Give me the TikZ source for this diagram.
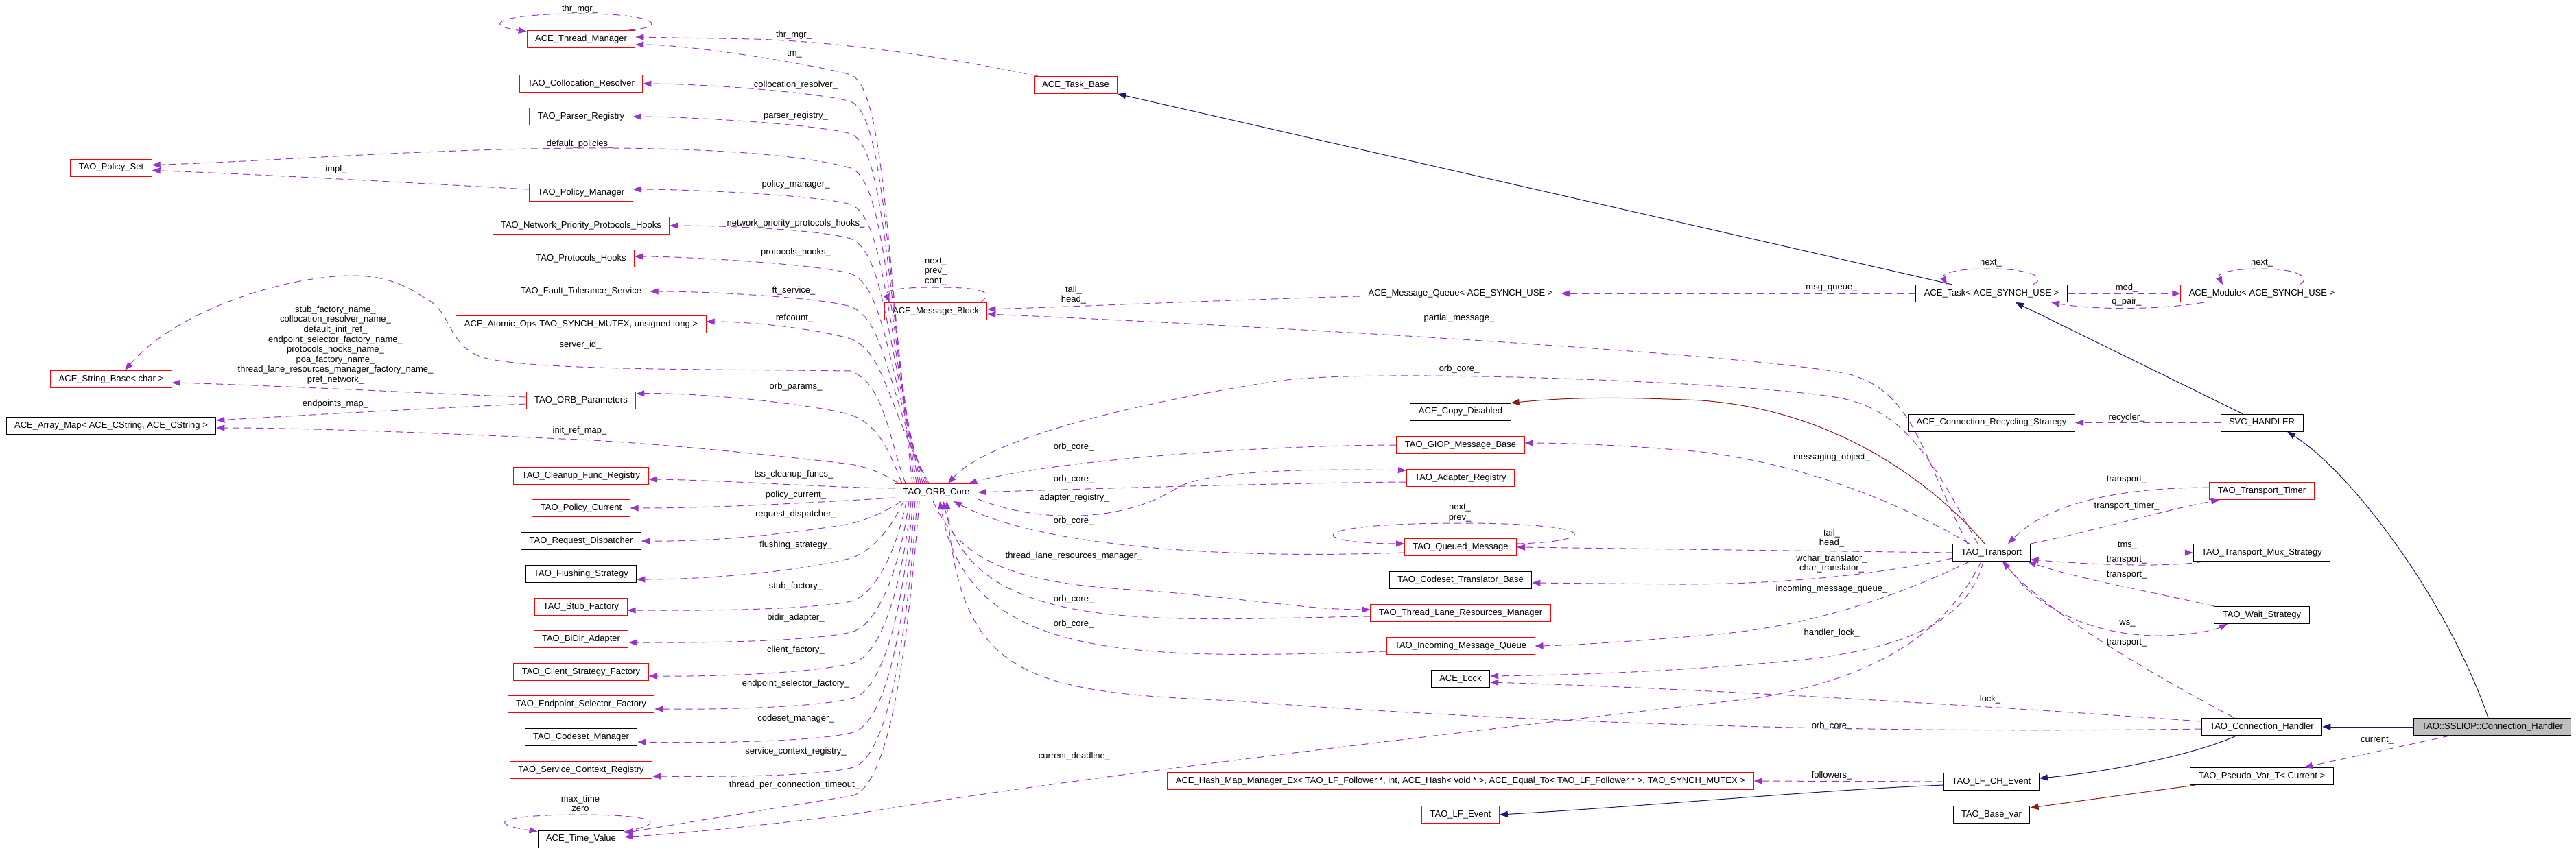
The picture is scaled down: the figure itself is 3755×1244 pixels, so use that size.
\documentclass[tikz,border=0pt]{standalone}
\usepackage{fontspec}
\setmainfont{Liberation Sans}
\usetikzlibrary{arrows.meta}
\definecolor{usecol}{HTML}{9A32CD}
\definecolor{inhcol}{HTML}{191970}
\definecolor{privcol}{HTML}{8B1A1A}
\definecolor{rootfill}{HTML}{BFBFBF}

\begin{document}
\begin{tikzpicture}[x=1pt,y=1pt,
  cls/.style={draw=black,fill=white,line width=1pt,inner xsep=12pt,inner ysep=0pt,minimum height=25pt,font=\fontsize{13}{15}\selectfont},
  clsred/.style={cls,draw=red},
  rootcls/.style={cls,fill=rootfill},
  lbl/.style={inner sep=0pt,align=center,font=\fontsize{13}{14.6}\selectfont},
  headtip/.style={-{Triangle[length=12pt,width=9pt]}},
  usage/.style={draw=usecol,line width=1pt,dash pattern=on 10pt off 7pt,headtip},
  inh/.style={draw=inhcol,line width=1pt,headtip},
  priv/.style={draw=privcol,line width=1pt,headtip}]
\fill[white] (0,0) rectangle (3755,-1244);
\useasboundingbox (0,0) rectangle (3755,-1244);

% classes
\node[clsred] (PolicySet) at (162,-244.5) {TAO\_Policy\_Set};
\node[clsred] (StringBase) at (162,-553) {ACE\_String\_Base< char >};
\node[cls] (ArrayMap) at (162,-621) {ACE\_Array\_Map< ACE\_CString, ACE\_CString >};

\node[clsred] (ThreadMgr) at (847,-57) {ACE\_Thread\_Manager};
\node[clsred] (CollocRes) at (847,-122) {TAO\_Collocation\_Resolver};
\node[clsred] (ParserReg) at (847,-170) {TAO\_Parser\_Registry};
\node[clsred] (PolicyMgr) at (847,-281) {TAO\_Policy\_Manager};
\node[clsred] (NetPrio) at (847,-329) {TAO\_Network\_Priority\_Protocols\_Hooks};
\node[clsred] (ProtoHooks) at (847,-377) {TAO\_Protocols\_Hooks};
\node[clsred] (FaultTol) at (847,-425) {TAO\_Fault\_Tolerance\_Service};
\node[clsred] (AtomicOp) at (847,-473) {ACE\_Atomic\_Op< TAO\_SYNCH\_MUTEX, unsigned long >};
\node[clsred] (OrbParams) at (847,-584) {TAO\_ORB\_Parameters};
\node[clsred] (CleanupReg) at (847,-694) {TAO\_Cleanup\_Func\_Registry};
\node[clsred] (PolicyCur) at (847,-741) {TAO\_Policy\_Current};
\node[cls] (ReqDisp) at (847,-789) {TAO\_Request\_Dispatcher};
\node[cls] (FlushStrat) at (847,-837) {TAO\_Flushing\_Strategy};
\node[clsred] (StubFact) at (847,-885) {TAO\_Stub\_Factory};
\node[clsred] (BiDir) at (847,-932) {TAO\_BiDir\_Adapter};
\node[clsred] (ClientFact) at (847,-980) {TAO\_Client\_Strategy\_Factory};
\node[clsred] (EndptFact) at (847,-1027) {TAO\_Endpoint\_Selector\_Factory};
\node[cls] (CodesetMgr) at (847,-1075) {TAO\_Codeset\_Manager};
\node[clsred] (SvcCtx) at (847,-1123) {TAO\_Service\_Context\_Registry};
\node[cls] (TimeValue) at (847,-1223.5) {ACE\_Time\_Value};

\node[clsred] (MsgBlock) at (1364,-454) {ACE\_Message\_Block};
\node[clsred] (OrbCore) at (1365,-718) {TAO\_ORB\_Core};
\node[clsred] (TaskBase) at (1568,-124) {ACE\_Task\_Base};

\node[clsred] (MsgQueue) at (2129,-428) {ACE\_Message\_Queue< ACE\_SYNCH\_USE >};
\node[cls] (CopyDisabled) at (2129,-600.5) {ACE\_Copy\_Disabled};
\node[clsred] (GiopBase) at (2129,-649) {TAO\_GIOP\_Message\_Base};
\node[clsred] (AdapterReg) at (2129,-697) {TAO\_Adapter\_Registry};
\node[clsred] (QueuedMsg) at (2129,-798) {TAO\_Queued\_Message};
\node[cls] (CodesetTrans) at (2129,-846) {TAO\_Codeset\_Translator\_Base};
\node[clsred] (ThreadLane) at (2129,-894) {TAO\_Thread\_Lane\_Resources\_Manager};
\node[clsred] (IncomingQ) at (2129,-942) {TAO\_Incoming\_Message\_Queue};
\node[cls] (Lock) at (2129,-990) {ACE\_Lock};
\node[clsred] (HashMap) at (2129,-1139) {ACE\_Hash\_Map\_Manager\_Ex< TAO\_LF\_Follower *, int, ACE\_Hash< void * >, ACE\_Equal\_To< TAO\_LF\_Follower * >, TAO\_SYNCH\_MUTEX >};
\node[clsred] (LfEvent) at (2129,-1188) {TAO\_LF\_Event};

\node[cls] (Task) at (2903,-428) {ACE\_Task< ACE\_SYNCH\_USE >};
\node[cls] (Recycling) at (2903,-616.5) {ACE\_Connection\_Recycling\_Strategy};
\node[cls] (Transport) at (2903,-806) {TAO\_Transport};
\node[cls] (LfChEvent) at (2903,-1140) {TAO\_LF\_CH\_Event};
\node[cls] (BaseVar) at (2903,-1188) {TAO\_Base\_var};

\node[clsred] (Module) at (3297,-428) {ACE\_Module< ACE\_SYNCH\_USE >};
\node[cls] (SvcHandler) at (3297,-616.5) {SVC\_HANDLER};
\node[clsred] (TransTimer) at (3297,-716) {TAO\_Transport\_Timer};
\node[cls] (MuxStrat) at (3297,-806) {TAO\_Transport\_Mux\_Strategy};
\node[cls] (WaitStrat) at (3297,-897) {TAO\_Wait\_Strategy};
\node[cls] (ConnHandler) at (3297,-1060) {TAO\_Connection\_Handler};
\node[cls] (PseudoVar) at (3297,-1132) {TAO\_Pseudo\_Var\_T< Current >};

\node[rootcls] (Sslip) at (3633,-1060) {TAO::SSLIOP::Connection\_Handler};

% edge labels
\node[lbl] (lbThrSelf) at (845,-13) {thr\_mgr\_};
\node[lbl] (lbThrMgr) at (1157,-51) {thr\_mgr\_};
\node[lbl] (lbTm) at (1158,-79) {tm\_};
\node[lbl] (lbColloc) at (1160,-124) {collocation\_resolver\_};
\node[lbl] (lbParser) at (1160,-169) {parser\_registry\_};
\node[lbl] (lbDefPol) at (845,-210) {default\_policies\_};
\node[lbl] (lbImpl) at (490,-247) {impl\_};
\node[lbl] (lbPolMgr) at (1160,-269) {policy\_manager\_};
\node[lbl] (lbNetPrio) at (1160,-326) {network\_priority\_protocols\_hooks\_};
\node[lbl] (lbProto) at (1160,-368) {protocols\_hooks\_};
\node[lbl] (lbFt) at (1157,-424) {ft\_service\_};
\node[lbl] (lbRef) at (1158,-464) {refcount\_};
\node[lbl] (lbServer) at (846,-503) {server\_id\_};
\node[lbl] (lbNames) at (489,-503) {stub\_factory\_name\_\\collocation\_resolver\_name\_\\default\_init\_ref\_\\endpoint\_selector\_factory\_name\_\\protocols\_hooks\_name\_\\poa\_factory\_name\_\\thread\_lane\_resources\_manager\_factory\_name\_\\pref\_network\_};
\node[lbl] (lbEndMap) at (489,-589) {endpoints\_map\_};
\node[lbl] (lbParams) at (1160,-564) {orb\_params\_};
\node[lbl] (lbInitRef) at (845,-628) {init\_ref\_map\_};
\node[lbl] (lbTss) at (1157,-692) {tss\_cleanup\_funcs\_};
\node[lbl] (lbPolCur) at (1160,-722) {policy\_current\_};
\node[lbl] (lbReq) at (1160,-750) {request\_dispatcher\_};
\node[lbl] (lbFlush) at (1160,-795) {flushing\_strategy\_};
\node[lbl] (lbStub) at (1160,-855) {stub\_factory\_};
\node[lbl] (lbBiDir) at (1160,-901) {bidir\_adapter\_};
\node[lbl] (lbClient) at (1160,-948) {client\_factory\_};
\node[lbl] (lbEndpt) at (1160,-997) {endpoint\_selector\_factory\_};
\node[lbl] (lbCodeset) at (1160,-1048) {codeset\_manager\_};
\node[lbl] (lbSvcCtx) at (1160,-1096) {service\_context\_registry\_};
\node[lbl] (lbTpc) at (1158,-1145) {thread\_per\_connection\_timeout\_};
\node[lbl] (lbTimeSelf) at (846,-1172) {max\_time\\zero};
\node[lbl] (lbBlockSelf) at (1364,-396) {next\_\\prev\_\\cont\_};
\node[lbl] (lbQueueBlock) at (1565,-430) {tail\_\\head\_};
\node[lbl] (lbGiopCore) at (1565,-652) {orb\_core\_};
\node[lbl] (lbAdapCore) at (1565,-699) {orb\_core\_};
\node[lbl] (lbAdapReg) at (1566,-726) {adapter\_registry\_};
\node[lbl] (lbQueuedCore) at (1565,-760) {orb\_core\_};
\node[lbl] (lbLane) at (1565,-811) {thread\_lane\_resources\_manager\_};
\node[lbl] (lbLaneCore) at (1565,-874) {orb\_core\_};
\node[lbl] (lbIncCore) at (1565,-910) {orb\_core\_};
\node[lbl] (lbDeadline) at (1566,-1103) {current\_deadline\_};
\node[lbl] (lbPartial) at (2127,-464) {partial\_message\_};
\node[lbl] (lbTransCore) at (2127,-538) {orb\_core\_};
\node[lbl] (lbQueuedSelf) at (2128,-748) {next\_\\prev\_};
\node[lbl] (lbMsgQueue) at (2670,-420) {msg\_queue\_};
\node[lbl] (lbMsgObj) at (2670,-667) {messaging\_object\_};
\node[lbl] (lbTransQueued) at (2670,-785) {tail\_\\head\_};
\node[lbl] (lbTrans) at (2670,-822) {wchar\_translator\_\\char\_translator\_};
\node[lbl] (lbIncQ) at (2670,-859) {incoming\_message\_queue\_};
\node[lbl] (lbHLock) at (2670,-923) {handler\_lock\_};
\node[lbl] (lbHandlerCore) at (2670,-1059) {orb\_core\_};
\node[lbl] (lbFollow) at (2670,-1131) {followers\_};
\node[lbl] (lbTaskSelf) at (2902,-384) {next\_};
\node[lbl] (lbLock) at (2901,-1020) {lock\_};
\node[lbl] (lbMod) at (3100,-420) {mod\_};
\node[lbl] (lbQPair) at (3100,-440) {q\_pair\_};
\node[lbl] (lbRecycler) at (3100,-609) {recycler\_};
\node[lbl] (lbTimerTr) at (3100,-700) {transport\_};
\node[lbl] (lbTimer) at (3100,-738) {transport\_timer\_};
\node[lbl] (lbTms) at (3101,-796) {tms\_};
\node[lbl] (lbMuxTr) at (3100,-817) {transport\_};
\node[lbl] (lbWaitTr) at (3100,-839) {transport\_};
\node[lbl] (lbWs) at (3101,-909) {ws\_};
\node[lbl] (lbHandlerTr) at (3100,-938) {transport\_};
\node[lbl] (lbModSelf) at (3297,-384) {next\_};
\node[lbl] (lbCurrent) at (3465,-1080) {current\_};

% inheritance
\draw[inh] ([xshift=-57pt]Task.north) -- (TaskBase.south east);
\draw[inh] ([xshift=-28pt]SvcHandler.north) -- ([xshift=35pt]Task.south);
\draw[inh] ([xshift=-6pt]Sslip.north) .. controls (3570,-880) and (3430,-690) .. ([xshift=37pt]SvcHandler.south);
\draw[inh] (Sslip.west) -- (ConnHandler.east);
\draw[inh] ([xshift=-37pt]ConnHandler.south) .. controls (3200,-1100) and (3080,-1125) .. ([yshift=5pt]LfChEvent.east);
\draw[inh] ([yshift=-5pt]LfChEvent.west) .. controls (2650,-1152) and (2400,-1176) .. (LfEvent.east);
\draw[priv] ([xshift=-10pt]Transport.north) .. controls (2840,-730) and (2700,-600) .. (2480,-584) .. controls (2350,-578) and (2280,-580) .. (CopyDisabled.north east);
\draw[priv] ([xshift=8pt]PseudoVar.south west) -- ([yshift=10pt]BaseVar.east);

% self loops
\draw[usage] ([xshift=-10pt]ThreadMgr.north east) .. controls (975,-40) and (960,-20) .. (847,-20) .. controls (730,-20) and (700,-36) .. ([yshift=-2pt]ThreadMgr.north west);
\draw[usage] ([xshift=-10pt]MsgBlock.north east) .. controls (1450,-425) and (1430,-419) .. (1364,-419) .. controls (1300,-419) and (1290,-425) .. ([xshift=8pt]MsgBlock.north west);
\draw[usage] ([yshift=5pt]QueuedMsg.east) .. controls (2330,-790) and (2340,-763) .. (2129,-763) .. controls (1900,-763) and (1900,-792) .. ([yshift=5pt]QueuedMsg.west);
\draw[usage] ([xshift=60pt]Task.north) .. controls (2985,-405) and (2960,-392) .. (2900,-392) .. controls (2845,-392) and (2830,-400) .. ([xshift=-65pt]Task.north);
\draw[usage] ([xshift=55pt]Module.north) .. controls (3370,-405) and (3350,-392) .. (3297,-392) .. controls (3245,-392) and (3232,-400) .. ([xshift=-57pt]Module.north);
\draw[usage] ([yshift=-2pt]TimeValue.north east) .. controls (980,-1200) and (950,-1188) .. (845,-1188) .. controls (740,-1188) and (700,-1200) .. ([yshift=-2pt]TimeValue.north west);

% ORB core members, upper fan
\draw[usage] ([xshift=-35pt]OrbCore.north) .. controls (1292,-377) and (1290,-129) .. (1240,-109) .. controls (1190,-95) and (1010,-65) .. ([yshift=-8pt]ThreadMgr.east);
\draw[usage] ([xshift=-32pt]OrbCore.north) .. controls (1292,-399) and (1290,-168) .. (1240,-148) .. controls (1190,-134) and (1020,-122) .. (CollocRes.east);
\draw[usage] ([xshift=-29pt]OrbCore.north) .. controls (1292,-424) and (1290,-215) .. (1240,-195) .. controls (1190,-181) and (1000,-170) .. (ParserReg.east);
\draw[usage] ([xshift=-26pt]OrbCore.north) .. controls (1292,-452) and (1290,-265) .. (1240,-245) .. controls (1180,-228) and (1050,-215) .. (845,-216) .. controls (600,-218) and (400,-235) .. ([yshift=4pt]PolicySet.east);
\draw[usage] ([xshift=-23pt]OrbCore.north) .. controls (1292,-481) and (1290,-318) .. (1240,-298) .. controls (1190,-284) and (1000,-276) .. ([yshift=5pt]PolicyMgr.east);
\draw[usage] ([xshift=-20pt]OrbCore.north) .. controls (1292,-508) and (1290,-368) .. (1240,-348) .. controls (1190,-334) and (1050,-329) .. (NetPrio.east);
\draw[usage] ([xshift=-17pt]OrbCore.north) .. controls (1292,-536) and (1290,-419) .. (1240,-399) .. controls (1190,-385) and (1000,-374) .. ([yshift=3pt]ProtoHooks.east);
\draw[usage] ([xshift=-14pt]OrbCore.north) .. controls (1292,-562) and (1290,-467) .. (1240,-447) .. controls (1190,-433) and (1030,-425) .. (FaultTol.east);
\draw[usage] ([xshift=-11pt]OrbCore.north) .. controls (1292,-589) and (1290,-514) .. (1240,-494) .. controls (1190,-480) and (1100,-469) .. ([yshift=4pt]AtomicOp.east);
\draw[usage] ([xshift=-45pt]OrbCore.north) .. controls (1295,-640) and (1290,-560) .. (1240,-541) .. controls (1000,-538) and (760,-540) .. (700,-520) .. controls (650,-500) and (660,-455) .. (620,-435) .. controls (590,-415) and (560,-402) .. (514,-402) .. controls (420,-402) and (260,-450) .. ([xshift=20pt]StringBase.north);
\draw[usage] ([xshift=-50pt]OrbCore.north) .. controls (1300,-670) and (1285,-620) .. (1240,-605) .. controls (1190,-590) and (1020,-572) .. ([yshift=10pt]OrbParams.east);
\draw[usage] ([yshift=5pt]OrbParams.west) .. controls (650,-575) and (400,-562) .. ([yshift=-5pt]StringBase.east);
\draw[usage] ([yshift=-5pt]OrbParams.west) .. controls (700,-592) and (500,-602) .. ([yshift=8pt]ArrayMap.east);
\draw[usage] ([yshift=5pt]PolicyMgr.west) .. controls (620,-268) and (420,-256) .. ([yshift=-4pt]PolicySet.east);

% ORB core members, lower fan
\draw[usage] ([xshift=-55pt]OrbCore.north) .. controls (1295,-695) and (1270,-682) .. (1240,-677) .. controls (1100,-660) and (900,-642) .. (818,-640) .. controls (650,-632) and (450,-624) .. ([yshift=-3pt]ArrayMap.east);
\draw[usage] ([yshift=6pt]OrbCore.west) .. controls (1200,-711) and (1050,-700) .. ([yshift=-5pt]CleanupReg.east);
\draw[usage] ([yshift=-8pt]OrbCore.west) .. controls (1200,-732) and (1050,-741) .. (PolicyCur.east);
\draw[usage] ([xshift=-52pt]OrbCore.south) .. controls (1295,-745) and (1265,-757) .. (1240,-764) .. controls (1150,-778) and (1050,-790) .. (ReqDisp.east);
\draw[usage] ([xshift=-48pt]OrbCore.south) .. controls (1300,-770) and (1270,-805) .. (1240,-814) .. controls (1180,-830) and (1050,-845) .. ([yshift=-8pt]FlushStrat.east);
\draw[usage] ([xshift=-44pt]OrbCore.south) .. controls (1310,-790) and (1280,-867) .. (1240,-877) .. controls (1190,-888) and (1050,-891) .. ([yshift=-5pt]StubFact.east);
\draw[usage] ([xshift=-40pt]OrbCore.south) .. controls (1315,-810) and (1285,-912) .. (1240,-922) .. controls (1190,-934) and (1050,-938) .. ([yshift=-5pt]BiDir.east);
\draw[usage] ([xshift=-37pt]OrbCore.south) .. controls (1318,-830) and (1290,-958) .. (1240,-968) .. controls (1190,-980) and (1060,-987) .. ([yshift=-6pt]ClientFact.east);
\draw[usage] ([xshift=-34pt]OrbCore.south) .. controls (1320,-850) and (1295,-1009) .. (1240,-1019) .. controls (1190,-1031) and (1060,-1035) .. ([yshift=-7pt]EndptFact.east);
\draw[usage] ([xshift=-31pt]OrbCore.south) .. controls (1322,-870) and (1298,-1059) .. (1240,-1069) .. controls (1190,-1081) and (1050,-1084) .. ([yshift=-7pt]CodesetMgr.east);
\draw[usage] ([xshift=-28pt]OrbCore.south) .. controls (1324,-890) and (1300,-1110) .. (1240,-1120) .. controls (1190,-1132) and (1060,-1133) .. ([yshift=-9pt]SvcCtx.east);
\draw[usage] ([xshift=-25pt]OrbCore.south) .. controls (1326,-900) and (1302,-1151) .. (1240,-1161) .. controls (1150,-1175) and (1000,-1200) .. ([yshift=9pt]TimeValue.east);

% ORB core users
\draw[usage] ([xshift=-20pt]Transport.north) .. controls (2830,-700) and (2790,-605) .. (2690,-582) .. controls (2590,-559) and (2000,-535) .. (1860,-556) .. controls (1720,-577) and (1450,-630) .. ([xshift=17pt]OrbCore.north);
\draw[usage] (GiopBase.west) .. controls (1800,-650) and (1520,-675) .. ([xshift=47pt]OrbCore.north);
\draw[usage] ([yshift=-10pt]OrbCore.east) .. controls (1520,-765) and (1640,-760) .. (1715,-712) .. controls (1760,-683) and (1950,-684) .. ([yshift=11pt]AdapterReg.west);
\draw[usage] ([yshift=-6pt]AdapterReg.west) .. controls (1900,-704) and (1600,-712) .. (OrbCore.east);
\draw[usage] ([yshift=-8pt]QueuedMsg.west) .. controls (1800,-815) and (1520,-800) .. ([xshift=25pt]OrbCore.south);
\draw[usage] ([xshift=-5pt]OrbCore.south) .. controls (1400,-820) and (1480,-850) .. (1650,-860) .. controls (1800,-870) and (1900,-889) .. ([yshift=5pt]ThreadLane.west);
\draw[usage] ([yshift=-5pt]ThreadLane.west) .. controls (1700,-903) and (1420,-930) .. ([xshift=10pt]OrbCore.south);
\draw[usage] ([yshift=-8pt]IncomingQ.west) .. controls (1650,-962) and (1410,-965) .. ([xshift=5pt]OrbCore.south);
\draw[usage] ([yshift=-3pt]ConnHandler.west) .. controls (2600,-1072) and (2100,-1045) .. (1800,-1022) .. controls (1500,-1010) and (1400,-990) .. ([xshift=15pt]OrbCore.south);

% transport and task members
\draw[usage] (Task.west) -- (MsgQueue.east);
\draw[usage] ([yshift=-4pt]MsgQueue.west) .. controls (1800,-437) and (1600,-446) .. ([yshift=3pt]MsgBlock.east);
\draw[usage] ([xshift=-35pt]Transport.north) .. controls (2800,-660) and (2790,-575) .. (2700,-547) .. controls (2600,-520) and (1900,-478) .. ([yshift=-4pt]MsgBlock.east);
\draw[usage] ([xshift=-55pt]TaskBase.north) .. controls (1400,-88) and (1250,-62) .. (1100,-57) -- ([yshift=3pt]ThreadMgr.east);
\draw[usage] ([xshift=-32pt]Transport.north) .. controls (2790,-745) and (2650,-680) .. (2480,-659) .. controls (2380,-650) and (2290,-646) .. ([yshift=3pt]GiopBase.east);
\draw[usage] (Transport.west) -- (QueuedMsg.east);
\draw[usage] ([yshift=-8pt]Transport.west) .. controls (2740,-838) and (2600,-852) .. (2450,-852) -- ([yshift=-4pt]CodesetTrans.east);
\draw[usage] ([xshift=-32pt]Transport.south) .. controls (2780,-862) and (2650,-915) .. (2480,-927) .. controls (2380,-935) and (2300,-941) .. (IncomingQ.east);
\draw[usage] ([xshift=-12pt]Transport.south) .. controls (2870,-900) and (2790,-945) .. (2620,-963) .. controls (2420,-982) and (2250,-985) .. ([yshift=4pt]Lock.east);
\draw[usage] ([yshift=8pt]ConnHandler.west) .. controls (2900,-1030) and (2500,-1005) .. ([yshift=-5pt]Lock.east);
\draw[usage] ([xshift=-15pt]Transport.south) .. controls (2845,-905) and (2760,-985) .. (2560,-1018) .. controls (2200,-1060) and (1600,-1128) .. (1240,-1188) .. controls (1100,-1205) and (1000,-1215) .. ([yshift=3pt]TimeValue.east);
\draw[usage] (LfChEvent.west) -- (HashMap.east);
\draw[usage] ([xshift=-62pt]Sslip.south) -- ([xshift=62pt]PseudoVar.north);
\draw[usage] (SvcHandler.west) -- (Recycling.east);
\draw[usage] (Task.east) -- (Module.west);
\draw[usage] ([xshift=-84pt]Module.south) .. controls (3150,-452) and (3050,-452) .. ([xshift=87pt]Task.south);
\draw[usage] ([yshift=5pt]TransTimer.west) .. controls (3100,-711) and (2990,-730) .. ([xshift=24pt]Transport.north);
\draw[usage] (Transport.north east) .. controls (3050,-775) and (3150,-745) .. ([xshift=-62pt]TransTimer.south);
\draw[usage] (Transport.east) -- (MuxStrat.west);
\draw[usage] ([xshift=-85pt]MuxStrat.south) .. controls (3150,-829) and (3030,-822) .. ([yshift=-10pt]Transport.east);
\draw[usage] (WaitStrat.north west) .. controls (3150,-866) and (3020,-842) .. ([xshift=53pt]Transport.south);
\draw[usage] ([xshift=20pt]Transport.south) .. controls (2960,-885) and (3050,-928) .. (3150,-927) .. controls (3200,-926) and (3230,-918) .. ([xshift=-50pt]WaitStrat.south);
\draw[usage] ([xshift=-40pt]ConnHandler.north) .. controls (3150,-990) and (2990,-900) .. ([xshift=16pt]Transport.south);
\end{tikzpicture}
\end{document}
